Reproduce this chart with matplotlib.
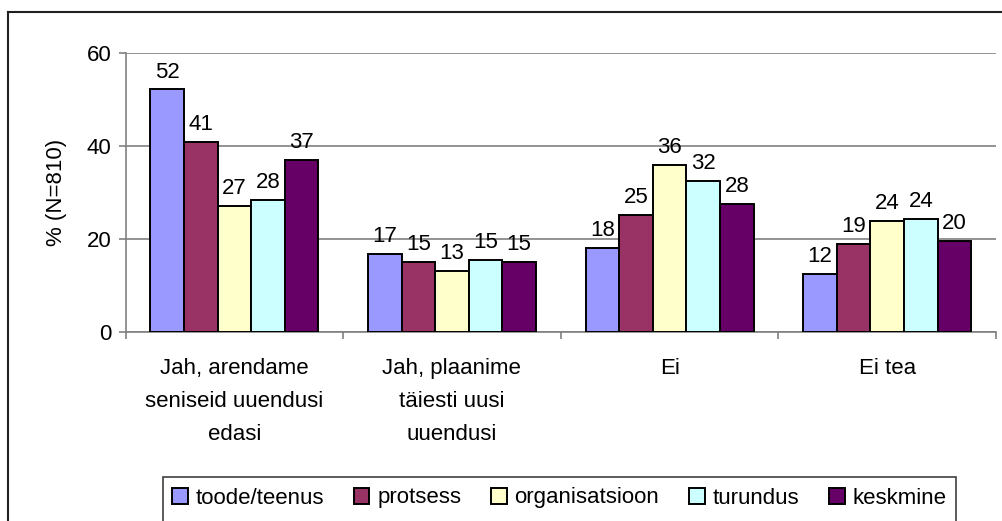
import numpy as np
import matplotlib as mpl
mpl.use("Agg")
import matplotlib.pyplot as plt
from matplotlib.patches import Rectangle, Patch
from matplotlib.lines import Line2D

mpl.rcParams.update({
    "font.family": ["Liberation Sans", "DejaVu Sans"],
    "font.size": 16,
})

categories = ["Jah, arendame\nseniseid uuendusi\nedasi",
              "Jah, plaanime\ntäiesti uusi\nuuendusi",
              "Ei", "Ei tea"]
series = ["toode/teenus", "protsess", "organisatsioon", "turundus", "keskmine"]
values = [
    [52.2, 16.8, 18.1, 12.4],   # toode/teenus
    [40.9, 15.1, 25.1, 19.0],   # protsess
    [27.1, 13.0, 35.9, 23.8],   # organisatsioon
    [28.4, 15.4, 32.4, 24.2],   # turundus
    [37.1, 15.1, 27.6, 19.5],   # keskmine
]
colors = ["#9999FF", "#993366", "#FFFFCC", "#CCFFFF", "#660066"]

W, H = 1003, 521
fig = plt.figure(figsize=(W / 100, H / 100), dpi=100)
ax = fig.add_axes([125.5 / W, 1 - 331.7 / H, (996 - 125.5) / W, (331.7 - 53.3) / H])

x = np.arange(len(categories))
bw = 0.1545
for i, (name, vals, c) in enumerate(zip(series, values, colors)):
    pos = x + (i - 2) * bw
    ax.bar(pos, vals, width=bw, color=c, edgecolor="black", linewidth=1.4,
           label=name, zorder=3)
    for p, v in zip(pos, vals):
        ax.annotate(f"{v:.0f}", (p, v), xytext=(0, 5), textcoords="offset points",
                    ha="center", va="bottom", fontsize=16)

ax.set_xlim(-0.5, 3.5)
ax.set_ylim(0, 60)
ax.set_yticks([0, 20, 40, 60])
ax.yaxis.grid(True, color="#808080", linewidth=1.2, zorder=0)
ax.set_axisbelow(True)
for s in ["top", "right"]:
    ax.spines[s].set_visible(False)
for s in ["left", "bottom"]:
    ax.spines[s].set_color("#808080")
    ax.spines[s].set_linewidth(1.2)

ax.set_xticks(x)
ax.set_xticklabels(categories, linespacing=1.75)
ax.set_xticks(np.arange(-0.5, 4, 1), minor=True)
ax.tick_params(axis="x", which="major", length=0, pad=19)
ax.tick_params(axis="x", which="minor", length=5, color="#808080", width=1.2, direction="out")
ax.tick_params(axis="y", length=5, color="#808080", width=1.2, pad=5, labelsize=16)
ax.set_ylabel("% (N=810)", fontsize=16, labelpad=14)

# outer chart border (top and left visible)
fig.add_artist(Line2D([8 / W, 1], [1 - 11.5 / H, 1 - 11.5 / H], color="#202020", lw=1.5,
                      transform=fig.transFigure))
fig.add_artist(Line2D([8 / W, 8 / W], [1 - 11.5 / H, 0], color="#202020", lw=1.5,
                      transform=fig.transFigure))

# legend box
fig.add_artist(Rectangle((163 / W, -0.05), (956 - 163) / W, 0.05 + 1 - 477 / H,
                         transform=fig.transFigure, facecolor="white",
                         edgecolor="#404040", lw=1.2))
handles = [Patch(facecolor=c, edgecolor="black", linewidth=1.4) for c in colors]
fig.legend(handles, series, loc="center left", bbox_to_anchor=(172 / W, 1 - 498 / H),
           ncol=5, frameon=False, fontsize=16, handlelength=0.7, handleheight=0.7,
           handletextpad=0.35, columnspacing=1.35, borderaxespad=0, borderpad=0)

fig.savefig("out.png", dpi=100, facecolor="white")
